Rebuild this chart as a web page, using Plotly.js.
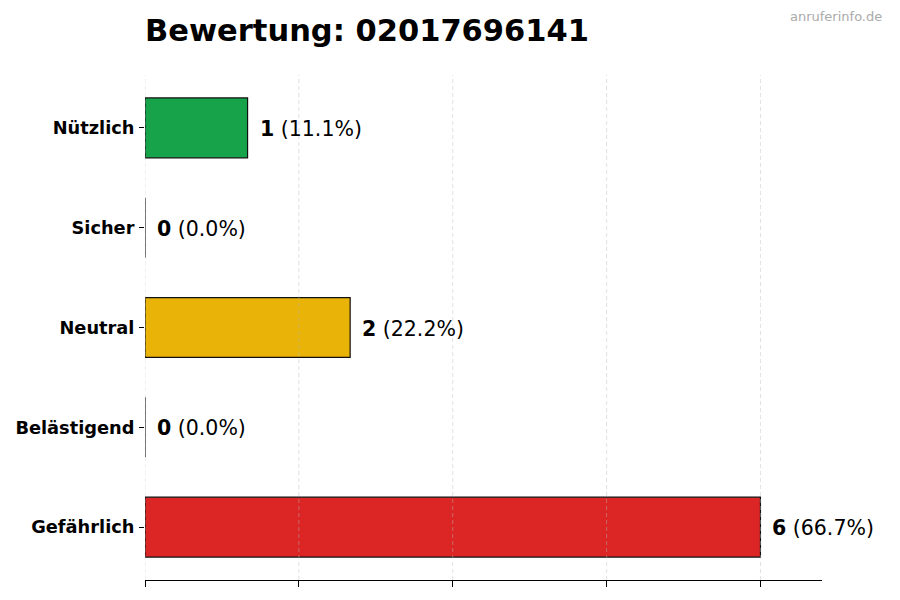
<!DOCTYPE html>
<html>
<head>
<meta charset="utf-8">
<script src="https://cdn.plot.ly/plotly-3.0.1.min.js"></script>
<style>html,body{margin:0;padding:0;background:#fff;}#chart{width:900px;height:600px;}</style>
</head>
<body>
<div id="chart"></div>
<script>
// Data (bottom to top)
var categories = ["Gefährlich", "Belästigend", "Neutral", "Sicher", "Nützlich"];
var counts = [6, 0, 2, 0, 1];
var percents = ["66.7%", "0.0%", "22.2%", "0.0%", "11.1%"];
var colors = ["#dc2626", "#dc2626", "#eab308", "#16a34a", "#16a34a"];
var titleText = "Bewertung: 02017696141";
var watermark = "anruferinfo.de";
var xTicks = [0, 1.5, 3, 4.5, 6];

var font = "DejaVu Sans, Verdana, sans-serif";

var trace = {
  type: "bar",
  orientation: "h",
  x: counts,
  y: categories,
  width: 0.6,
  marker: {color: colors, line: {color: "#111", width: 1.2}},
  hoverinfo: "none"
};

var annotations = categories.map(function(c, i) {
  return {
    xref: "x", yref: "y", x: counts[i], y: c,
    text: "<b>" + counts[i] + "</b> (" + percents[i] + ")",
    showarrow: false, xanchor: "left", yanchor: "middle", xshift: 10, yshift: -1,
    font: {family: font, size: 20.5, color: "#000"}
  };
});
annotations.push({
  xref: "paper", yref: "paper", x: 1.091, y: 1.115,
  text: watermark, showarrow: false, xanchor: "right", yanchor: "middle",
  font: {family: font, size: 13, color: "#aaaaaa"}
});

var gridShapes = xTicks.map(function(v) {
  return {
    type: "line", xref: "x", yref: "paper", x0: v, x1: v, y0: 0, y1: 1,
    layer: "above",
    line: {color: "rgba(185,185,185,0.55)", width: 0.8, dash: "4px,3px"}
  };
});

var layout = {
  width: 900, height: 600,
  margin: {l: 145, r: 78, t: 75, b: 20, pad: 0},
  paper_bgcolor: "#fff", plot_bgcolor: "#fff",
  showlegend: false,
  title: {
    text: "<b>" + titleText + "</b>",
    x: 145/900, xref: "container", xanchor: "left",
    y: 1 - 30/600, yref: "container", yanchor: "middle",
    font: {family: font, size: 30.5, color: "#000"}
  },
  xaxis: {
    range: [0, 6.6], tickvals: xTicks, showticklabels: false,
    ticks: "outside", ticklen: 6, tickwidth: 1, tickcolor: "#000",
    showgrid: false,
    showline: true, linecolor: "#000", linewidth: 1, zeroline: false,
    fixedrange: true
  },
  yaxis: {
    type: "category", categoryorder: "array", categoryarray: categories,
    range: [-0.53, 4.53], showgrid: false, zeroline: false, showline: false,
    ticks: "outside", ticklen: 5, tickwidth: 1, tickcolor: "#000",
    ticklabelstandoff: 1,
    tickfont: {family: font, size: 17.8, color: "#000", weight: "bold"},
    tickprefix: "<b>", ticksuffix: "</b>",
    fixedrange: true
  },
  shapes: gridShapes,
  annotations: annotations
};

Plotly.newPlot("chart", [trace], layout, {displayModeBar: false, staticPlot: true});
</script>
</body>
</html>
